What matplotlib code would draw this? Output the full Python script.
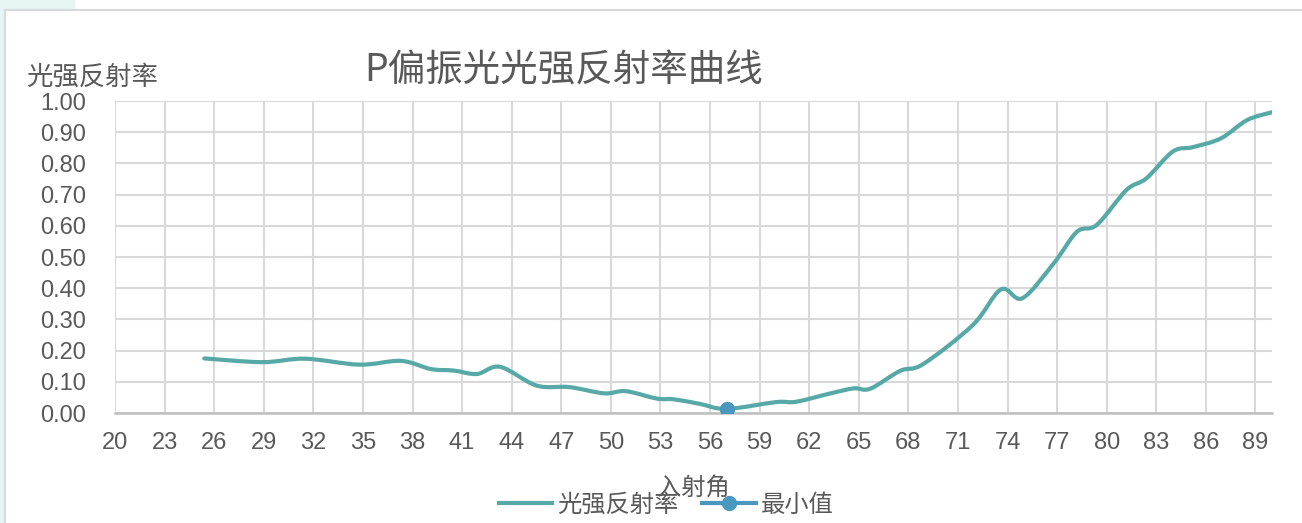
import matplotlib.pyplot as plt
import numpy as np
from matplotlib.path import Path
from matplotlib.patches import PathPatch, Rectangle
from matplotlib.lines import Line2D

plt.rcParams['font.family'] = ['Liberation Sans', 'Noto Sans CJK SC', 'DejaVu Sans']
cjk = ['Noto Sans CJK SC', 'DejaVu Sans']

# 入射角 (deg) and P-polarised reflectance
angle = [25.4, 28.9, 31.5, 34.8, 37.3, 39.1, 40.5, 41.9, 43.3, 45.5,
         47.5, 49.6, 50.9, 52.8, 53.8, 55.4, 57.0, 60.0, 61.2, 63.3,
         64.7, 65.7, 67.5, 68.9, 71.9, 73.6, 74.9, 76.8, 78.2, 79.4,
         81.2, 82.4, 84.0, 85.2, 86.9, 88.5, 90.0]
refl = [0.175, 0.163, 0.174, 0.155, 0.167, 0.141, 0.136, 0.125, 0.148, 0.088,
        0.083, 0.063, 0.070, 0.046, 0.044, 0.029, 0.013, 0.035, 0.036, 0.063,
        0.079, 0.078, 0.135, 0.157, 0.282, 0.396, 0.368, 0.480, 0.581, 0.603,
        0.715, 0.752, 0.838, 0.852, 0.880, 0.939, 0.964]
min_angle = [57.0]
min_refl = [0.013]

line_color = '#56A9A6'
mark_color = '#4A98BD'
text_color = '#595959'


def smooth_path(xs, ys):
    # Catmull-Rom segments as cubic Beziers (like a spreadsheet "smoothed line")
    p = np.column_stack([xs, ys])
    n = len(p)
    verts = [p[0]]
    codes = [Path.MOVETO]
    for i in range(n - 1):
        p0 = p[i - 1] if i > 0 else p[i]
        p3 = p[i + 2] if i + 2 < n else p[i + 1]
        c1 = p[i] + (p[i + 1] - p0) / 6
        c2 = p[i + 1] - (p3 - p[i]) / 6
        verts += [c1, c2, p[i + 1]]
        codes += [Path.CURVE4] * 3
    return Path(verts, codes)


fig = plt.figure(figsize=(13.02, 5.23), dpi=100)

# frame of the chart area
fig.patches.append(Rectangle((0, 0), 5 / 1302, 1, transform=fig.transFigure,
                             facecolor='#E6F4F4', edgecolor='none'))
fig.patches.append(Rectangle((0, 1 - 9 / 523), 75 / 1302, 9 / 523, transform=fig.transFigure,
                             facecolor='#E6F4F4', edgecolor='none'))
fig.add_artist(Line2D([5 / 1302, 1], [1 - 10 / 523, 1 - 10 / 523], color='#D9D9D9', lw=1.5))
fig.add_artist(Line2D([5 / 1302, 5 / 1302], [0, 1 - 10 / 523], color='#D9D9D9', lw=1.5))

ax = fig.add_axes([115 / 1302, 1 - 413 / 523, (1272 - 115) / 1302, (413 - 101) / 523])

ax.add_patch(PathPatch(smooth_path(angle, refl), facecolor='none',
                       edgecolor=line_color, lw=3, capstyle='round', zorder=3))
ax.plot(min_angle, min_refl, 'o', color=mark_color, markersize=10, zorder=4)

ax.set_xlim(20, 90)
ax.set_ylim(0, 1.0)
ax.set_xticks(np.arange(20, 90, 3))
ax.set_yticks(np.arange(0, 1.01, 0.1))
ax.set_yticklabels([f'{v:.2f}' for v in np.arange(0, 1.01, 0.1)])
ax.tick_params(length=0, labelsize=17, labelcolor=text_color)
ax.tick_params(axis='x', pad=14)
ax.tick_params(axis='y', pad=21)
ax.grid(True, color='#D9D9D9', lw=1.5)
ax.set_axisbelow(True)
for s in ['top', 'right', 'left']:
    ax.spines[s].set_visible(False)
ax.spines['bottom'].set_color('#BFBFBF')
ax.spines['bottom'].set_linewidth(1.8)

fig.text(564 / 1302, 1 - 71 / 523, 'P偏振光光强反射率曲线', ha='center', va='center',
         fontsize=27, color=text_color, family=cjk)
fig.text(92 / 1302, 1 - 77 / 523, '光强反射率', ha='center', va='center',
         fontsize=19, color=text_color, family=cjk)
fig.text(693 / 1302, 1 - 488 / 523, '入射角', ha='center', va='center',
         fontsize=17.5, color=text_color, family=cjk)

handles = [Line2D([], [], color=line_color, lw=3),
           Line2D([], [], color=mark_color, lw=3, marker='o', markersize=10)]
fig.legend(handles, ['光强反射率', '最小值'], loc='center', ncol=2,
           bbox_to_anchor=(666 / 1302, 1 - 505 / 523), frameon=False,
           prop={'family': cjk, 'size': 17.5}, labelcolor=text_color,
           handlelength=2.2, handletextpad=0.2, columnspacing=1.0)

fig.savefig('out.png', dpi=100)
